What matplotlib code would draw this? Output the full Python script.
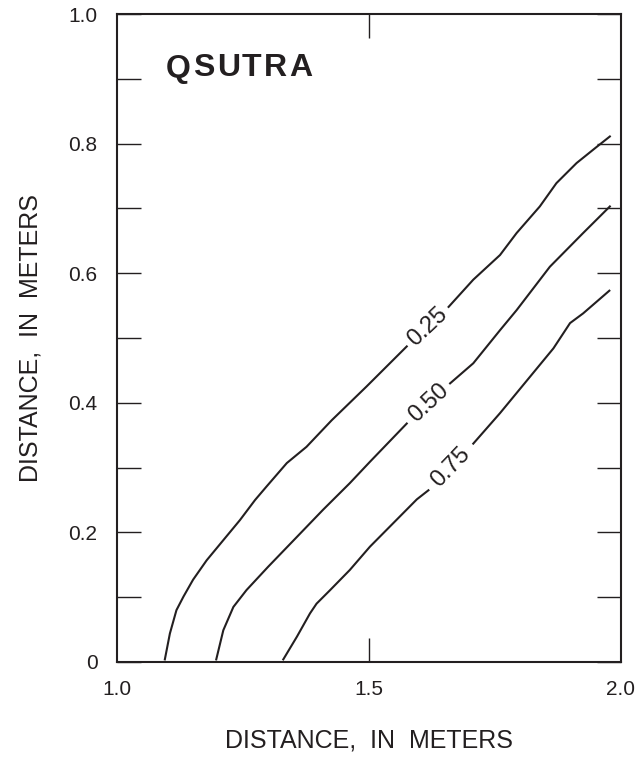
import numpy as np
import matplotlib.pyplot as plt

plt.rcParams['font.family'] = ['Liberation Sans', 'DejaVu Sans']

# contour lines, split where the label sits
x25_lo = [1.095, 1.105, 1.118, 1.132, 1.151, 1.178, 1.211, 1.244, 1.274, 1.297, 1.337, 1.376, 1.426, 1.495, 1.575]
y25_lo = [0.004, 0.044, 0.080, 0.101, 0.127, 0.157, 0.188, 0.219, 0.250, 0.271, 0.307, 0.332, 0.373, 0.425, 0.487]
x25_hi = [1.658, 1.707, 1.760, 1.793, 1.839, 1.872, 1.912, 1.952, 1.978]
y25_hi = [0.548, 0.590, 0.628, 0.662, 0.703, 0.739, 0.770, 0.795, 0.811]

x50_lo = [1.197, 1.211, 1.231, 1.257, 1.300, 1.357, 1.409, 1.462, 1.502, 1.575]
y50_lo = [0.004, 0.049, 0.085, 0.111, 0.147, 0.193, 0.235, 0.276, 0.309, 0.368]
x50_hi = [1.661, 1.707, 1.760, 1.793, 1.859, 1.925, 1.978]
y50_hi = [0.430, 0.461, 0.512, 0.543, 0.610, 0.662, 0.703]

x75_lo = [1.330, 1.357, 1.383, 1.396, 1.423, 1.462, 1.502, 1.595, 1.618]
y75_lo = [0.004, 0.039, 0.075, 0.090, 0.111, 0.142, 0.178, 0.251, 0.265]
x75_hi = [1.707, 1.760, 1.866, 1.899, 1.925, 1.977]
y75_hi = [0.337, 0.384, 0.484, 0.523, 0.538, 0.573]

levels = ['0.25', '0.50', '0.75']
xticks = [1.0, 1.5, 2.0]
xticklabels = ['1.0', '1.5', '2.0']
yticks = [0, 0.2, 0.4, 0.6, 0.8, 1.0]
yticklabels = ['0', '0.2', '0.4', '0.6', '0.8', '1.0']
title = 'QSUTRA'

ink = '#231f20'

fig = plt.figure(figsize=(6.42, 7.57), dpi=100)
ax = fig.add_axes([0.1822, 0.1255, 0.7850, 0.8560])
ax.set_xlim(1.0, 2.0)
ax.set_ylim(0, 1.0)

curves = [(x25_lo, y25_lo, x25_hi, y25_hi),
          (x50_lo, y50_lo, x50_hi, y50_hi),
          (x75_lo, y75_lo, x75_hi, y75_hi)]

for (xl, yl, xh, yh), lev in zip(curves, levels):
    ax.plot(xl, yl, color=ink, lw=1.5, solid_joinstyle='round')
    ax.plot(xh, yh, color=ink, lw=1.5, solid_joinstyle='round')
    # label sits in the gap between the two pieces
    p0 = ax.transData.transform((xl[-1], yl[-1]))
    p1 = ax.transData.transform((xh[0], yh[0]))
    ang = np.degrees(np.arctan2(p1[1] - p0[1], p1[0] - p0[0]))
    ax.text((xl[-1] + xh[0]) / 2, (yl[-1] + yh[0]) / 2, lev, rotation=ang,
            rotation_mode='anchor', ha='center', va='center',
            fontsize=17, color=ink)

ax.set_xticks(xticks)
ax.set_xticklabels(xticklabels)
ax.set_yticks(yticks)
ax.set_yticklabels(yticklabels)
ax.set_yticks(np.arange(0.1, 1.0, 0.2), minor=True)
ax.tick_params(axis='both', which='both', direction='in', length=17,
               width=1.0, color=ink, labelcolor=ink, labelsize=15)
ax.tick_params(axis='y', which='both', left=True, right=True, pad=14)
ax.tick_params(axis='x', which='both', top=True, bottom=True, pad=13)
# only the middle x tick is drawn as a mark
for t in ax.xaxis.get_major_ticks():
    if t.get_loc() in (1.0, 2.0):
        t.tick1line.set_visible(False)
        t.tick2line.set_visible(False)

for s in ax.spines.values():
    s.set_linewidth(1.5)
    s.set_color(ink)

ax.set_xlabel('DISTANCE,  IN  METERS', fontsize=18, color=ink)
ax.set_ylabel('DISTANCE,  IN  METERS', fontsize=18, color=ink)
ax.xaxis.set_label_coords(0.5, -0.102)
ax.yaxis.set_label_coords(-0.147, 0.5)

# letter-spaced panel title
renderer = fig.canvas.get_renderer()
xpos = 166 / 642.0
for ch in title:
    t = fig.text(xpos, 1 - 68.5 / 757.0, ch, fontsize=23, fontweight='bold',
                 color=ink, ha='left', va='center')
    bb = t.get_window_extent(renderer)
    xpos = (bb.x1 + 2.2) / 642.0

fig.savefig('out.png', dpi=100)
